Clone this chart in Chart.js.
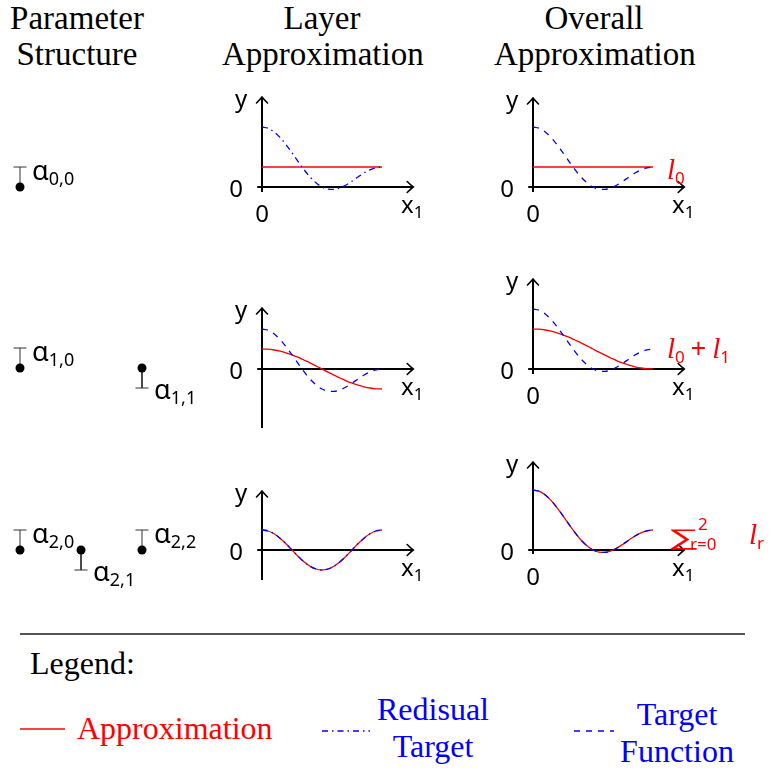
<!DOCTYPE html>
<html><head><meta charset="utf-8">
<script src="https://cdn.jsdelivr.net/npm/chart.js@4.4.1/dist/chart.umd.min.js"></script>
<style>
html,body{margin:0;padding:0;background:#fff;}
body{width:771px;height:771px;position:relative;overflow:hidden;font-family:"Liberation Serif",serif;color:#000;}
canvas{position:absolute;}
.hdr{position:absolute;top:0;font-size:33px;line-height:36px;text-align:center;white-space:nowrap;}
.lbl{position:absolute;white-space:nowrap;line-height:1;}
.m{font-family:"Noto Sans",sans-serif;font-size:24px;}
.m sub{font-size:17px;vertical-align:-5px;}
.s{font-family:"Noto Sans",sans-serif;font-size:17px;}
.sum{font-family:"Liberation Sans",sans-serif;font-size:30px;}
.a{font-family:"Noto Sans",sans-serif;font-size:27px;}
.a sub{font-size:18px;vertical-align:-5px;}
.ell{font-family:"Liberation Serif",serif;font-style:italic;font-size:29px;}
.plus{font-family:"Noto Sans",sans-serif;font-size:27px;margin:0 6px;}
.leg{position:absolute;font-size:32px;line-height:37px;white-space:nowrap;text-align:center;}
</style></head>
<body>
<div class="hdr" style="left:-3px;width:160px;">Parameter<br>Structure</div>
<div class="hdr" style="left:222px;width:200px;">Layer<br>Approximation</div>
<div class="hdr" style="left:494px;width:200px;">Overall<br>Approximation</div>

<div style="position:absolute;left:20px;top:633px;width:725px;height:2px;background:#555;"></div>
<div class="leg" style="left:30px;top:645px;">Legend:</div>
<svg style="position:absolute;left:0;top:690px" width="771" height="80">
  <line x1="20" y1="39" x2="65" y2="39" stroke="#ff0000" stroke-width="1.3"/>
  <line x1="322" y1="41" x2="370" y2="41" stroke="#0000ff" stroke-width="1.3" stroke-dasharray="6 4 1.5 4"/>
  <line x1="574" y1="41" x2="614" y2="41" stroke="#0000ff" stroke-width="1.3" stroke-dasharray="6 6"/>
</svg>
<div class="leg" style="left:77px;top:710px;color:#ff0000;">Approximation</div>
<div class="leg" style="left:363px;width:140px;top:691px;color:#0000ff;">Redisual<br>Target</div>
<div class="leg" style="left:607px;width:140px;top:696px;color:#0000ff;">Target<br>Function</div>

<script>
// ---------------- data ----------------
const tGrid = [0,0.05,0.1,0.15,0.2,0.25,0.3,0.35,0.4,0.45,0.5,0.55,0.6,0.65,0.7,0.75,0.8,0.85,0.9,0.95,1];
const constGrid = [0,1];
const targetFunction = [3.00,2.94,2.76,2.48,2.12,1.71,1.28,0.87,0.50,0.21,0.00,-0.11,-0.12,-0.04,0.10,0.29,0.50,0.70,0.86,0.96,1.00];
const residualTarget0 = [3.00,2.94,2.76,2.48,2.12,1.71,1.28,0.87,0.50,0.21,0.00,-0.11,-0.12,-0.04,0.10,0.29,0.50,0.70,0.86,0.96,1.00];
const residualTarget1 = [2.00,1.94,1.76,1.48,1.12,0.71,0.28,-0.13,-0.50,-0.79,-1.00,-1.11,-1.12,-1.04,-0.90,-0.71,-0.50,-0.30,-0.14,-0.04,0.00];
const residualTarget2 = [1.00,0.95,0.81,0.59,0.31,0.00,-0.31,-0.59,-0.81,-0.95,-1.00,-0.95,-0.81,-0.59,-0.31,0.00,0.31,0.59,0.81,0.95,1.00];
const layerApprox0 = [1.00,1.00];
const layerApprox1 = [1.00,0.99,0.95,0.89,0.81,0.71,0.59,0.45,0.31,0.16,0.00,-0.16,-0.31,-0.45,-0.59,-0.71,-0.81,-0.89,-0.95,-0.99,-1.00];
const layerApprox2 = [1.00,0.95,0.81,0.59,0.31,0.00,-0.31,-0.59,-0.81,-0.95,-1.00,-0.95,-0.81,-0.59,-0.31,0.00,0.31,0.59,0.81,0.95,1.00];
const overallApprox0 = [1.00,1.00];
const overallApprox1 = [2.00,1.99,1.95,1.89,1.81,1.71,1.59,1.45,1.31,1.16,1.00,0.84,0.69,0.55,0.41,0.29,0.19,0.11,0.05,0.01,0.00];
const overallApprox2 = [3.00,2.94,2.76,2.48,2.12,1.71,1.28,0.87,0.50,0.21,0.00,-0.11,-0.12,-0.04,0.10,0.29,0.50,0.70,0.86,0.96,1.00];
const alphaPositions = [[0],[0,1],[0,0.5,1]];
const alphaValues = [[1],[1,-1],[1,-1,1]];
const alphaNames = [["0,0"],["1,0","1,1"],["2,0","2,1","2,2"]];

// ---------------- layout ----------------
const RED = '#ff0000', BLUE = '#0000ff';
const PXU_X = 120, PXU_Y = 20;
const colX0 = [262, 533];              // pixel of x1 = 0 in each plot column
const rowAxisY = [187, 369, 550];      // pixel of y = 0 in each row
const rowTop = [85, 270, 450], rowH = [120, 170, 140];
const DASH = {solid: [], dashed: [6,6], dashdot: [6,4,1.5,4]};

function addLabel(html, x, y, cls, color, anchor) {
  const d = document.createElement('div');
  d.className = 'lbl ' + (cls || '');
  d.innerHTML = html;
  d.style.left = x + 'px'; d.style.top = y + 'px';
  if (color) d.style.color = color;
  d.style.transform = anchor === 'left' ? 'translate(0,-50%)' : 'translate(-50%,-50%)';
  document.body.appendChild(d);
  return d;
}

const arrowAxes = {
  id: 'arrowAxes',
  beforeDatasetsDraw(chart, args, o) {
    const {ctx} = chart, xs = chart.scales.x, ys = chart.scales.y;
    const x0 = xs.getPixelForValue(0), y0 = ys.getPixelForValue(0);
    const xl = xs.getPixelForValue(o.xMin), xr = xs.getPixelForValue(o.xMax);
    const yb = ys.getPixelForValue(o.yMin), yt = ys.getPixelForValue(o.yMax);
    ctx.save();
    ctx.strokeStyle = '#000'; ctx.lineWidth = 2;
    ctx.beginPath(); ctx.moveTo(xl, y0); ctx.lineTo(xr, y0); ctx.stroke();
    ctx.beginPath(); ctx.moveTo(x0, yb); ctx.lineTo(x0, yt); ctx.stroke();
    ctx.lineWidth = 1.6; ctx.lineCap = 'round';
    ctx.beginPath();
    ctx.moveTo(xr - 6, y0 - 5.5); ctx.quadraticCurveTo(xr - 2, y0 - 1.5, xr, y0);
    ctx.quadraticCurveTo(xr - 2, y0 + 1.5, xr - 6, y0 + 5.5); ctx.stroke();
    ctx.beginPath();
    ctx.moveTo(x0 - 5.5, yt + 6); ctx.quadraticCurveTo(x0 - 1.5, yt + 2, x0, yt);
    ctx.quadraticCurveTo(x0 + 1.5, yt + 2, x0 + 5.5, yt + 6); ctx.stroke();
    ctx.restore();
  }
};

function pts(xs, ys) { return ys.map((v, i) => ({x: xs[i], y: v})); }

function makeCanvas(left, top, w, h) {
  const c = document.createElement('canvas');
  c.width = w; c.height = h;
  c.style.left = left + 'px'; c.style.top = top + 'px';
  c.style.width = w + 'px'; c.style.height = h + 'px';
  document.body.appendChild(c);
  return c;
}

// first series is drawn on top
const plots = [
  {row:0,col:0,yTop:4.5, yBot:-0.25,zeroBelow:true, series:[[tGrid,residualTarget0,BLUE,'dashdot'],[constGrid,layerApprox0,RED,'solid']]},
  {row:0,col:1,yTop:4.45,yBot:-0.25,zeroBelow:true, series:[[tGrid,targetFunction,BLUE,'dashed'],[constGrid,overallApprox0,RED,'solid']]},
  {row:1,col:0,yTop:3.05,yBot:-2.95,zeroBelow:false,series:[[tGrid,residualTarget1,BLUE,'dashed'],[tGrid,layerApprox1,RED,'solid']]},
  {row:1,col:1,yTop:4.5, yBot:-0.25,zeroBelow:true, series:[[tGrid,targetFunction,BLUE,'dashed'],[tGrid,overallApprox1,RED,'solid']]},
  {row:2,col:0,yTop:2.95,yBot:-1.5, zeroBelow:false,series:[[tGrid,residualTarget2,BLUE,'dashdot'],[tGrid,layerApprox2,RED,'solid']]},
  {row:2,col:1,yTop:4.4, yBot:-0.2, zeroBelow:true, series:[[tGrid,targetFunction,BLUE,'dashed'],[tGrid,overallApprox2,RED,'solid']]},
];

const baseOpts = (xmin, xmax, ymin, ymax) => ({
  responsive: false, animation: false, events: [], devicePixelRatio: 1,
  layout: {padding: 0, autoPadding: false},
  scales: {
    x: {type: 'linear', display: false, min: xmin, max: xmax},
    y: {type: 'linear', display: false, min: ymin, max: ymax}
  },
  plugins: {legend: {display: false}, tooltip: {enabled: false}}
});

plots.forEach(p => {
  const x0 = colX0[p.col], axY = rowAxisY[p.row], top = rowTop[p.row], h = rowH[p.row];
  const left = x0 - 30, w = 200;
  const c = makeCanvas(left, top, w, h);
  const opts = baseOpts(-30 / PXU_X, (w - 30) / PXU_X, -(top + h - axY) / PXU_Y, (axY - top) / PXU_Y);
  opts.plugins.arrowAxes = {xMin: -0.04, xMax: 1.26, yMin: p.yBot, yMax: p.yTop};
  new Chart(c, {
    type: 'line',
    data: {datasets: p.series.map(s => ({
      data: pts(s[0], s[1]), borderColor: s[2], borderWidth: 1.3,
      borderDash: DASH[s[3]], pointRadius: 0, cubicInterpolationMode: 'monotone', fill: false
    }))},
    options: opts,
    plugins: [arrowAxes]
  });
  const tipX = x0 + 1.26 * PXU_X, topY = axY - p.yTop * PXU_Y;
  addLabel('y', x0 - 21, topY + 1, 'm');
  addLabel('0', x0 - 26, axY + 1, 'm');
  if (p.zeroBelow) addLabel('0', x0, axY + 26, 'm');
  addLabel('x<sub>1</sub>', tipX - 1, axY + 19, 'm');
});

// labels of the overall approximations
const LX = colX0[1] + 134;
addLabel('<span class="ell">l</span><sub>0</sub>', LX, rowAxisY[0] - 17, 'm', RED, 'left');
addLabel('<span class="ell">l</span><sub>0</sub><span class="plus">+</span><span class="ell">l</span><sub>1</sub>', LX, rowAxisY[1] - 20, 'm', RED, 'left');
const sumEl = addLabel('&sum;', LX, rowAxisY[2] - 13, 'sum', RED, 'left');
sumEl.style.transformOrigin = '0 50%';
sumEl.style.transform = 'translate(0,-50%) scale(1.5,0.75)';
addLabel('2', LX + 31, rowAxisY[2] - 27, 's', RED, 'left');
addLabel('r=0', LX + 23, rowAxisY[2] - 7, 's', RED, 'left');
addLabel('<span class="ell">l</span><sub>r</sub>', LX + 82, rowAxisY[2] - 15, 'm', RED, 'left');

// parameter structure (lollipop stems)
const PX_PX = 122, PX_PY = 20, parX0 = 20;
const parAxisY = [187, 368, 550];
alphaPositions.forEach((row, r) => {
  const top = parAxisY[r] - 40, h = 80, left = 0, w = 210;
  const c = makeCanvas(left, top, w, h);
  const datasets = row.map((t, j) => ({
    data: [{x: t, y: 0}, {x: t, y: alphaValues[r][j]}],
    borderColor: '#333', borderWidth: 1,
    pointStyle: ['circle', 'line'], pointRadius: [4.5, 6.5],
    pointBackgroundColor: ['#000', '#333'], pointBorderColor: ['#000', '#333'],
    pointBorderWidth: [0, 1]
  }));
  new Chart(c, {
    type: 'line', data: {datasets},
    options: baseOpts(-parX0 / PX_PX, (w - parX0) / PX_PX, -40 / PX_PY, 40 / PX_PY)
  });
  row.forEach((t, j) => {
    const v = alphaValues[r][j];
    const px = parX0 + t * PX_PX + 12;
    const py = parAxisY[r] - v * 16 + (v < 0 ? 6 : 0);
    addLabel('&alpha;<sub>' + alphaNames[r][j] + '</sub>', px, py, 'a', null, 'left');
  });
});
</script>
</body></html>
